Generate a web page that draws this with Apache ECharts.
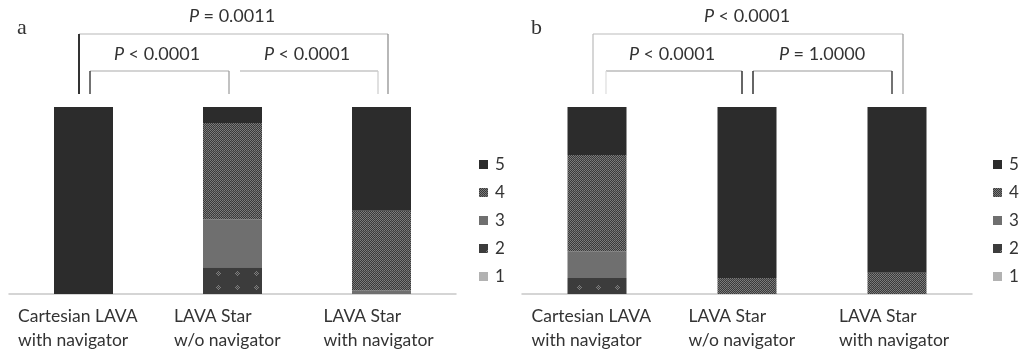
<!DOCTYPE html>
<html>
<head>
<meta charset="utf-8">
<script src="https://cdn.jsdelivr.net/npm/echarts@6/dist/echarts.min.js"></script>
<style>
  html, body { margin: 0; padding: 0; background: #fff; }
  #main { width: 1019px; height: 354px; }
</style>
</head>
<body>
<div id="main"></div>
<script>
// categories and scores
const categories = ['Cartesian LAVA\nwith navigator', 'LAVA Star\nw/o navigator', 'LAVA Star\nwith navigator'];
const scores = ['1', '2', '3', '4', '5'];

// panel a, percent of cases per score
const aScore1 = [0, 0, 0];
const aScore2 = [0, 14.3, 0];
const aScore3 = [0, 25.7, 2.0];
const aScore4 = [0, 51.4, 42.5];
const aScore5 = [100, 8.6, 55.5];

// panel b
const bScore1 = [0, 0, 0];
const bScore2 = [8.6, 0, 0];
const bScore3 = [14.3, 0, 0];
const bScore4 = [51.4, 8.6, 11.4];
const bScore5 = [25.7, 91.4, 88.6];

// p-values: outer, inner left, inner right
const pLabelsA = ['P = 0.0011', 'P < 0.0001', 'P < 0.0001'];
const pLabelsB = ['P < 0.0001', 'P < 0.0001', 'P = 1.0000'];

// pattern fills
function checkerPattern() {
  const c = document.createElement('canvas');
  c.width = 8; c.height = 8;
  const ctx = c.getContext('2d');
  for (let y = 0; y < 8; y++) {
    for (let x = 0; x < 8; x++) {
      let light = (x + y) % 2 === 0;
      ctx.fillStyle = light ? '#7c7c7c' : '#383838';
      if (x === 7 || y === 7) ctx.fillStyle = light ? '#6a6a6a' : '#454545';
      ctx.fillRect(x, y, 1, 1);
    }
  }
  return c;
}
function dotPattern() {
  const c = document.createElement('canvas');
  c.width = 19; c.height = 14;
  const ctx = c.getContext('2d');
  ctx.fillStyle = '#3c3c3c';
  ctx.fillRect(0, 0, 19, 14);
  ctx.fillStyle = '#7e7e7e';
  [[9, 5], [8, 6], [10, 6], [9, 7], [7, 7], [11, 7], [8, 8], [10, 8], [9, 9]].forEach(function (p) {
    ctx.fillRect(p[0], p[1], 1, 1);
  });
  return c;
}

const fills = {
  '1': '#b2b2b2',
  '2': { image: dotPattern(), repeat: 'repeat' },
  '3': '#6f6f6f',
  '4': { image: checkerPattern(), repeat: 'repeat' },
  '5': '#2c2c2c'
};

const dataA = [aScore1, aScore2, aScore3, aScore4, aScore5];
const dataB = [bScore1, bScore2, bScore3, bScore4, bScore5];

function buildSeries(data, idx) {
  return scores.map(function (s, i) {
    return {
      name: s,
      type: 'bar',
      stack: 'p' + idx,
      xAxisIndex: idx,
      yAxisIndex: idx,
      barWidth: 59,
      itemStyle: { color: fills[s] },
      data: data[i]
    };
  });
}

function pText(str, x, y) {
  return {
    type: 'text',
    x: x, y: y,
    style: {
      text: str.replace(/^P/, '{i|P}'),
      fill: '#333',
      font: '18px Lato',
      align: 'center',
      verticalAlign: 'middle',
      rich: { i: { fontStyle: 'italic', fontSize: 18, fontFamily: 'Lato', fill: '#333' } }
    }
  };
}
function seg(x1, y1, x2, y2, color, w) {
  return {
    type: 'line',
    shape: { x1: x1, y1: y1, x2: x2, y2: y2 },
    style: { stroke: color, lineWidth: w || 1.2 }
  };
}

// label blocks: lines left-aligned, block roughly centred under bar
const labelWidths = [131, 117, 116];
const rich = {};
labelWidths.forEach(function (w, i) {
  rich['c' + i] = { width: w, align: 'left', fontSize: 17.5, fontFamily: 'Lato', color: '#333', lineHeight: 24 };
});
const axisLabel = {
  interval: 0,
  margin: 10,
  color: '#333',
  formatter: function (v, i) {
    return v.split('\n').map(function (l) { return '{c' + i + '|' + l + '}'; }).join('\n');
  },
  rich: rich
};

const legendBase = {
  orient: 'vertical', top: 151, itemWidth: 9, itemHeight: 9, itemGap: 11, icon: 'rect',
  data: ['5', '4', '3', '2', '1'],
  textStyle: { fontSize: 17, fontFamily: 'Lato', color: '#333', padding: [0, 0, 0, 2] }
};

const chart = echarts.init(document.getElementById('main'));
chart.setOption({
  animation: false,
  grid: [
    { left: 9, top: 107, width: 447, height: 187 },
    { left: 522, top: 107, width: 450, height: 187 }
  ],
  xAxis: [0, 1].map(function (i) {
    return {
      type: 'category',
      gridIndex: i,
      data: categories,
      axisLine: { lineStyle: { color: '#c8c8c8', width: 1.5 } },
      axisTick: { show: false },
      axisLabel: axisLabel
    };
  }),
  yAxis: [0, 1].map(function (i) {
    return { type: 'value', gridIndex: i, min: 0, max: 100, show: false };
  }),
  legend: [
    Object.assign({ left: 474 }, legendBase),
    Object.assign({ left: 988 }, legendBase)
  ],
  graphic: [
    { type: 'text', x: 17, y: 28, style: { text: 'a', font: '22px "Liberation Serif"', fill: '#333', verticalAlign: 'middle' } },
    { type: 'text', x: 531, y: 28, style: { text: 'b', font: '22px "Liberation Serif"', fill: '#333', verticalAlign: 'middle' } },
    pText(pLabelsA[0], 232, 16),
    pText(pLabelsA[1], 157, 54),
    pText(pLabelsA[2], 307, 54),
    pText(pLabelsB[0], 747, 16),
    pText(pLabelsB[1], 672, 54),
    pText(pLabelsB[2], 822, 54),
    // panel a brackets
    seg(79, 34, 388, 34, '#b8b8b8'),
    seg(79, 34, 79, 94, '#333', 2),
    seg(388, 34, 388, 94, '#888'),
    seg(90, 71, 229, 71, '#aaa'),
    seg(90, 71, 90, 94, '#444', 1.5),
    seg(229, 71, 229, 94, '#999'),
    seg(240, 71, 378, 71, '#aaa'),
    seg(378, 71, 378, 94, '#ccc'),
    // panel b brackets
    seg(593, 34, 903, 34, '#bbb'),
    seg(593, 34, 593, 94, '#bbb'),
    seg(903, 34, 903, 94, '#999'),
    seg(606, 71, 742, 71, '#999'),
    seg(606, 71, 606, 94, '#ddd'),
    seg(742, 71, 742, 94, '#333', 1.5),
    seg(753, 71, 892, 71, '#999'),
    seg(753, 71, 753, 94, '#333', 1.5),
    seg(892, 71, 892, 94, '#444', 1.5)
  ],
  series: buildSeries(dataA, 0).concat(buildSeries(dataB, 1))
});
</script>
</body>
</html>
